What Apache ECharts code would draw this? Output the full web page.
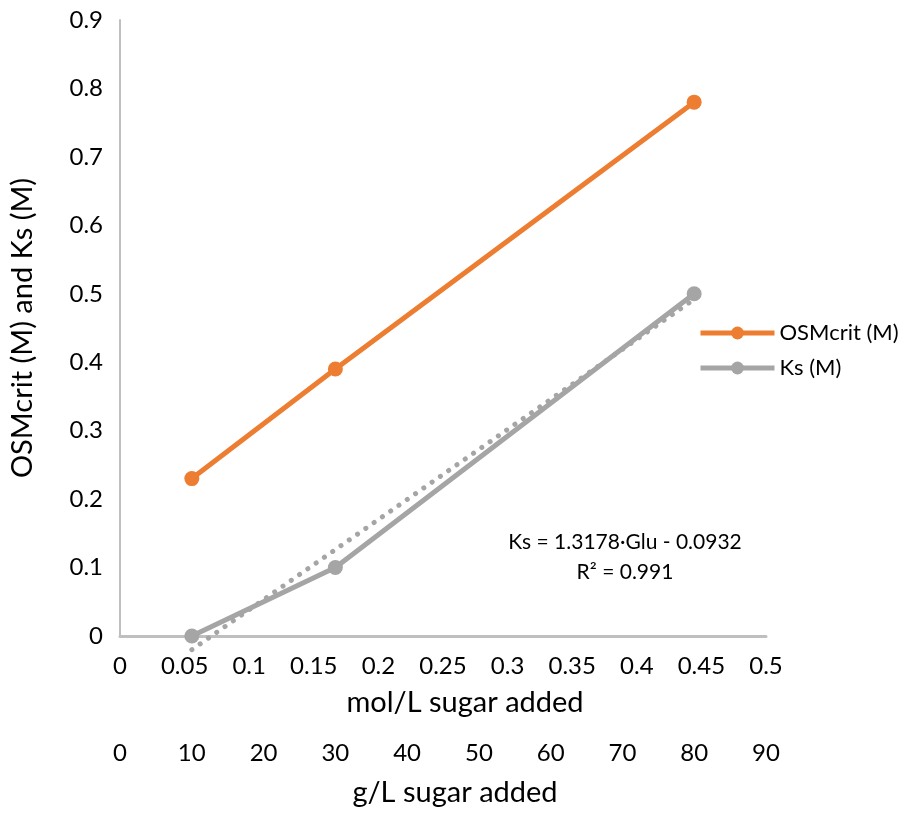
<!DOCTYPE html>
<html>
<head>
<meta charset="utf-8">
<script src="https://cdn.jsdelivr.net/npm/echarts@6/dist/echarts.min.js"></script>
<style>html,body{margin:0;padding:0;background:#fff;}#c{width:898px;height:816px;}</style>
</head>
<body>
<div id="c"></div>
<script>
// mol/L sugar added (x positions of the data points)
const sugarMolL = [0.0556, 0.1667, 0.4444];
const osmcrit = [0.23, 0.39, 0.78];
const ks = [0.0, 0.1, 0.5];
// trendline endpoints (linear fit: Ks = 1.3178·Glu - 0.0932)
const trendX = [0.0556, 0.4444];
const trendY = [-0.020, 0.492];
const seriesNames = ['OSMcrit (M)', 'Ks (M)'];
const eqText = ['Ks = 1.3178·Glu - 0.0932', 'R² = 0.991'];

const FONT = 'Lato, "Open Sans", sans-serif';
const TXT = '#000';
const AX = '#BFBFBF';

const chart = echarts.init(document.getElementById('c'), null, {renderer: 'canvas'});
const pair = (xs, ys) => xs.map((x, i) => [x, ys[i]]);

chart.setOption({
  animation: false,
  backgroundColor: '#fff',
  textStyle: {fontFamily: FONT, color: TXT},
  grid: {left: 118, right: 132, top: 20, bottom: 180, containLabel: false},
  xAxis: [{
    type: 'value', min: 0, max: 0.5, interval: 0.05, position: 'bottom',
    axisLine: {show: true, onZero: false, lineStyle: {color: AX, width: 3}},
    axisTick: {show: false}, splitLine: {show: false},
    axisLabel: {fontSize: 24, color: TXT, margin: 18, fontFamily: FONT},
    name: 'mol/L sugar added', nameLocation: 'middle', nameGap: 52,
    nameTextStyle: {fontSize: 29, color: TXT, fontFamily: FONT, padding: [0, 0, 0, 44]}
  }, {
    type: 'value', min: 0, max: 90, interval: 10, position: 'bottom', offset: 87,
    axisLine: {show: false}, axisTick: {show: false}, splitLine: {show: false},
    axisLabel: {fontSize: 24, color: TXT, margin: 18, fontFamily: FONT},
    name: 'g/L sugar added', nameLocation: 'middle', nameGap: 55,
    nameTextStyle: {fontSize: 29, color: TXT, fontFamily: FONT, padding: [0, 0, 0, 24]}
  }],
  yAxis: {
    type: 'value', min: 0, max: 0.9, interval: 0.1,
    axisLine: {show: true, lineStyle: {color: AX, width: 2}},
    axisTick: {show: false}, splitLine: {show: false},
    axisLabel: {fontSize: 24, color: TXT, margin: 17, fontFamily: FONT},
    name: 'OSMcrit (M) and Ks (M)', nameLocation: 'middle', nameGap: 83,
    nameTextStyle: {fontSize: 29, color: TXT, fontFamily: FONT}
  },
  legend: {
    orient: 'vertical', left: 698, top: 322, padding: 0,
    itemWidth: 74, itemHeight: 16, itemGap: 13,
    data: seriesNames,
    lineStyle: {width: 5},
    textStyle: {fontSize: 22, color: TXT, fontFamily: FONT}
  },
  series: [{
    name: seriesNames[0], type: 'line', data: pair(sugarMolL, osmcrit),
    symbol: 'circle', symbolSize: 15,
    lineStyle: {color: '#ED7D31', width: 5}, itemStyle: {color: '#ED7D31'}, z: 3
  }, {
    name: seriesNames[1], type: 'line', data: pair(sugarMolL, ks),
    symbol: 'circle', symbolSize: 15,
    lineStyle: {color: '#A5A5A5', width: 5}, itemStyle: {color: '#A5A5A5'}, z: 3
  }, {
    name: 'trend', type: 'line', data: pair(trendX, trendY),
    symbol: 'none', clip: false, silent: true,
    lineStyle: {color: '#A5A5A5', width: 5, type: [0.1, 10], cap: 'round'}, z: 2
  }],
  graphic: [{
    type: 'text', x: 625, y: 542,
    style: {text: eqText[0], fontSize: 21, fontFamily: FONT, fill: TXT, textAlign: 'center', textVerticalAlign: 'middle'}
  }, {
    type: 'text', x: 625, y: 572,
    style: {text: eqText[1], fontSize: 21, fontFamily: FONT, fill: TXT, textAlign: 'center', textVerticalAlign: 'middle'}
  }]
});
</script>
</body>
</html>
